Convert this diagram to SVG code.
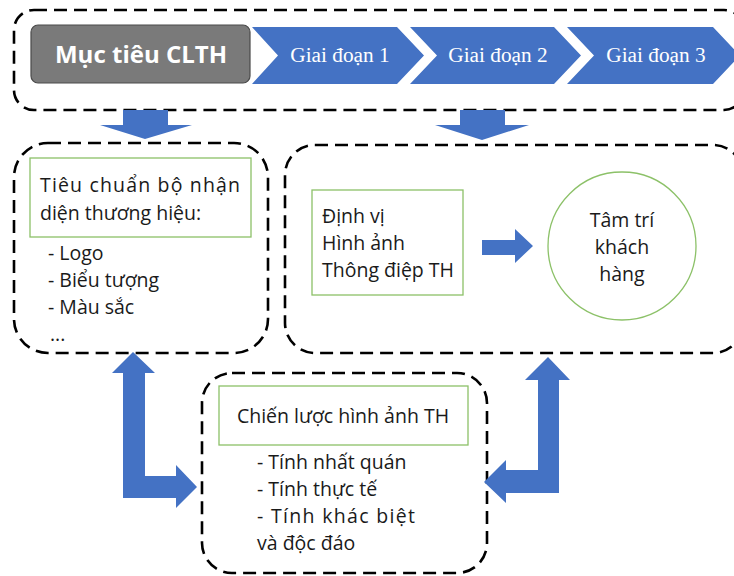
<svg xmlns="http://www.w3.org/2000/svg" width="734" height="576" viewBox="0 0 734 576">
  <style>
    .dash { fill: none; stroke: #000; stroke-width: 2.6; stroke-dasharray: 13 7; }
    .green { fill: #fff; stroke: #8CC168; stroke-width: 1.3; }
    .blue { fill: #4472C4; }
    .txt { font-family: "Open Sans", "Noto Sans", sans-serif; font-size: 19.5px; fill: #1a1a1a; }
    .stage { font-family: "Liberation Serif", serif; font-size: 21.3px; fill: #fff; text-anchor: middle; }
    .title { font-family: "Open Sans", "Noto Sans", sans-serif; font-size: 24px; font-weight: bold; fill: #fff; text-anchor: middle; }
  </style>

  <!-- Stage banner -->
  <g id="banner">
    <rect class="dash" x="14" y="10" width="730" height="100" rx="20"/>
    <rect x="31" y="25" width="219" height="58" rx="7" fill="#7A7A7A" stroke="#4A4A4A" stroke-width="1.2"/>
    <text class="title" x="141" y="63">Mục tiêu CLTH</text>
  </g>
  <g id="stage1">
    <polygon class="blue" points="252,27 397,27 424,55.5 397,84 252,84 278,55.5"/>
    <text class="stage" x="340" y="62">Giai đoạn 1</text>
  </g>
  <g id="stage2">
    <polygon class="blue" points="410,27 554,27 581,55.5 554,84 410,84 437,55.5"/>
    <text class="stage" x="498" y="62">Giai đoạn 2</text>
  </g>
  <g id="stage3">
    <polygon class="blue" points="567,27 713,27 740,55.5 713,84 567,84 594,55.5"/>
    <text class="stage" x="656" y="62">Giai đoạn 3</text>
  </g>

  <!-- Identity standards -->
  <g id="identity">
    <rect class="dash" x="14" y="143" width="254" height="210" rx="34"/>
    <rect class="green" x="30" y="158" width="221" height="79"/>
    <text class="txt" x="40" y="192" textLength="200" lengthAdjust="spacing">Tiêu chuẩn bộ nhận</text>
    <text class="txt" x="40" y="220">diện thương hiệu:</text>
    <text class="txt" x="48" y="260">- Logo</text>
    <text class="txt" x="48" y="287">- Biểu tượng</text>
    <text class="txt" x="48" y="314">- Màu sắc</text>
    <text class="txt" x="50" y="341">...</text>
  </g>

  <!-- Positioning and customer mind -->
  <g id="positioning">
    <rect class="dash" x="285" y="145" width="458" height="208" rx="30"/>
    <rect class="green" x="312" y="190" width="151" height="105"/>
    <text class="txt" x="322" y="223">Định vị</text>
    <text class="txt" x="322" y="250">Hình ảnh</text>
    <text class="txt" x="322" y="277">Thông điệp TH</text>
  </g>
  <g id="mind">
    <circle cx="622" cy="246" r="74" fill="#fff" stroke="#8CC168" stroke-width="1.3"/>
    <text class="txt" x="622" y="227" text-anchor="middle">Tâm trí</text>
    <text class="txt" x="622" y="254" text-anchor="middle">khách</text>
    <text class="txt" x="622" y="281" text-anchor="middle">hàng</text>
  </g>

  <!-- Image strategy -->
  <g id="strategy">
    <rect class="dash" x="202" y="373" width="285" height="200" rx="30"/>
    <rect class="green" x="219" y="386" width="249" height="59"/>
    <text class="txt" x="343" y="423" text-anchor="middle">Chiến lược hình ảnh TH</text>
    <text class="txt" x="257" y="469">- Tính nhất quán</text>
    <text class="txt" x="257" y="496">- Tính thực tế</text>
    <text class="txt" x="257" y="523" textLength="158" lengthAdjust="spacing">-  Tính  khác  biệt</text>
    <text class="txt" x="257" y="550">và độc đáo</text>
  </g>

  <!-- Block arrows -->
  <g id="connectors">
    <polygon class="blue" points="123,110 168,110 168,125 192,125 145,139 100,125 123,125"/>
    <polygon class="blue" points="460,110 505,110 505,125 529,125 482,140 435,125 460,125"/>
    <polygon class="blue" points="482,240 515,240 515,229 533,246 515,263 515,255 482,255"/>
    <polygon class="blue" points="133,352 155,373 145,373 145,476 176,476 176,465 197,487 176,508 176,498 123,498 123,373 112,373"/>
    <polygon class="blue" points="548,357 570,380 559,380 559,493 506,493 506,503 484,482 506,460 506,470 538,470 538,380 525,380"/>
  </g>
</svg>
